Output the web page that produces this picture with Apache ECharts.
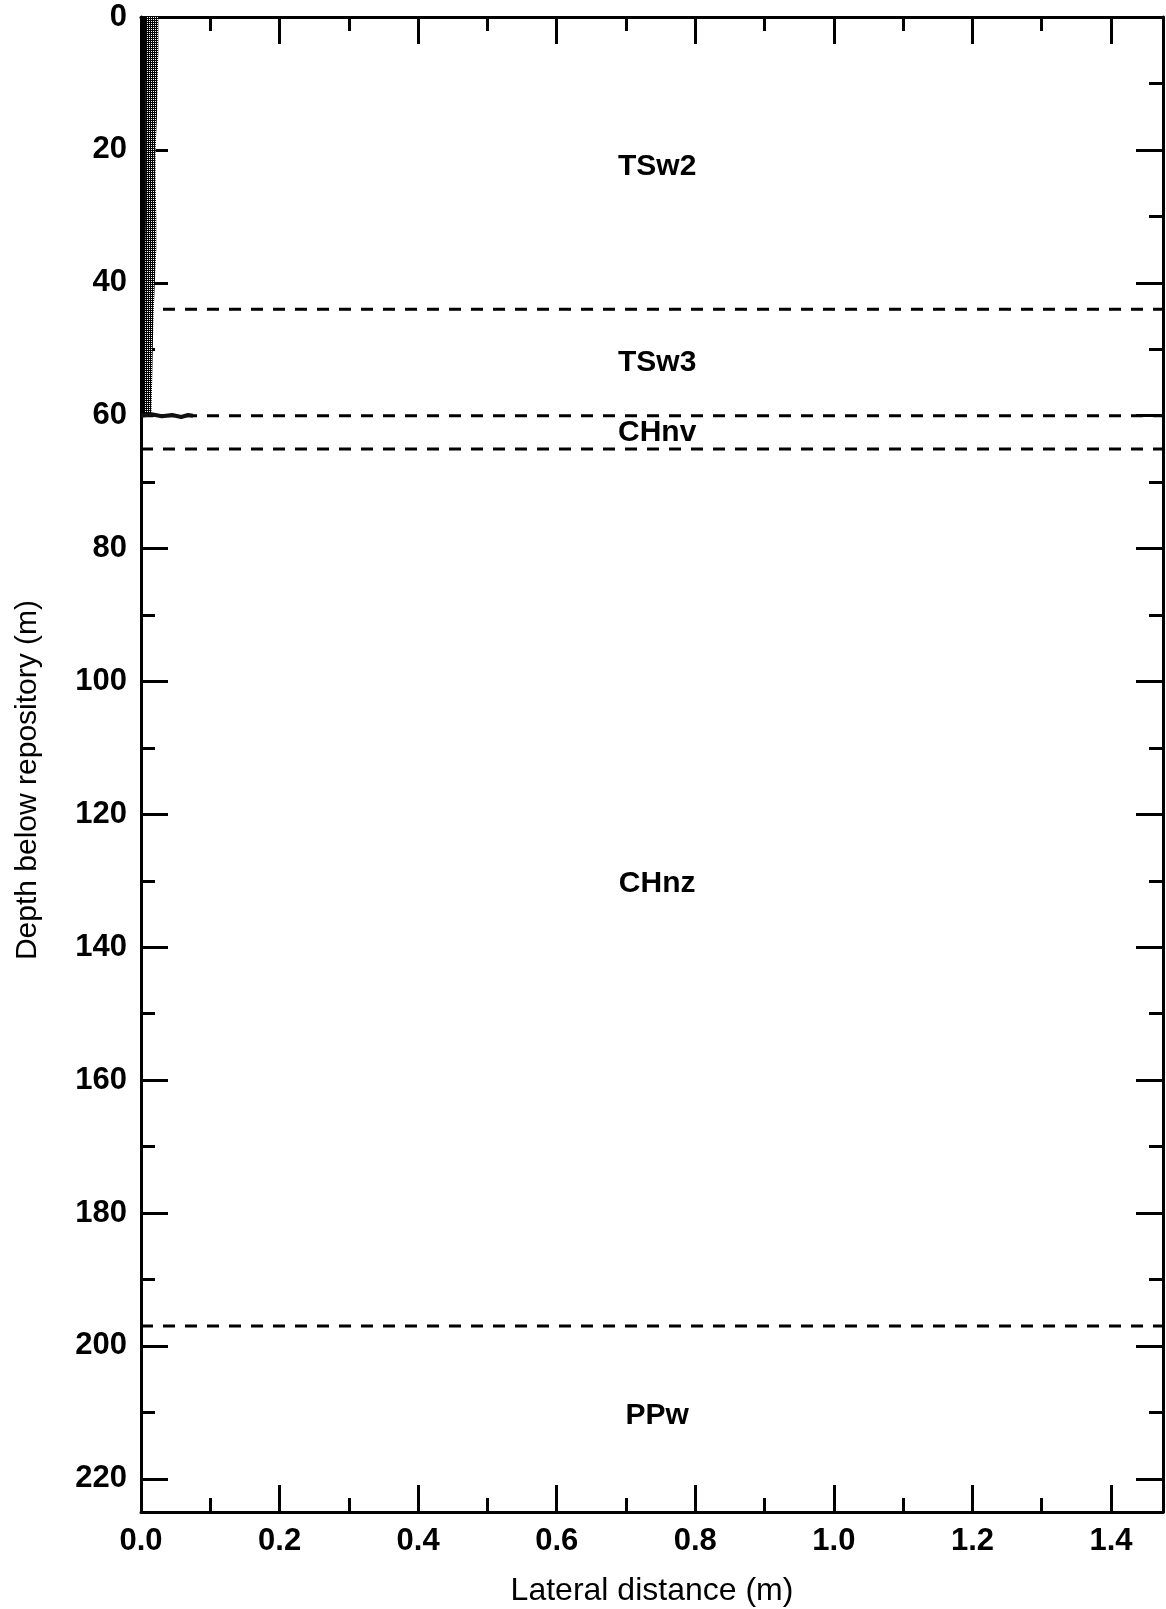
<!DOCTYPE html>
<html>
<head>
<meta charset="utf-8">
<script src="https://cdn.jsdelivr.net/npm/echarts@6/dist/echarts.min.js"></script>
<style>
  html, body { margin: 0; padding: 0; background: #fff; }
  #chart { width: 1166px; height: 1609px; }
</style>
</head>
<body>
<div id="chart"></div>
<script>
// Tracer plume below the repository: depth (m) vs lateral extent (m)
const plumeDepth = [0, 5, 10, 15, 20, 25, 30, 35, 40, 45, 50, 55, 60];
const plumeOuter = [0.025, 0.025, 0.024, 0.023, 0.021, 0.021, 0.022, 0.022, 0.020, 0.018, 0.017, 0.016, 0.015];
const plumeCore  = [0.008, 0.008, 0.007, 0.007, 0.007, 0.007, 0.007, 0.006, 0.006, 0.006, 0.005, 0.005, 0.005];

// Lateral spreading along the contact at 60 m
const spreadX     = [0, 0.015, 0.03, 0.045, 0.058, 0.068, 0.075];
const spreadDepth = [60, 59.8, 60.1, 59.9, 60.2, 59.9, 60];

// Hydrogeologic unit contacts (m)
const contactDepths = [44, 60, 65, 197];

// Unit names and label positions
const unitNames  = ['TSw2', 'TSw3', 'CHnv', 'CHnz', 'PPw'];
const unitDepths = [22.5, 52, 62.5, 130.5, 210.5];
const unitX      = [0.745, 0.745, 0.745, 0.745, 0.745];

const X_MAX = 1.475;
const Y_MAX = 225;
const FONT = "'Liberation Sans', Arial, Helvetica, sans-serif";

// Stippled fill for the dispersed part of the plume
const pc = document.createElement('canvas');
pc.width = 4; pc.height = 4;
const g = pc.getContext('2d');
g.fillStyle = '#000'; g.fillRect(0, 0, 4, 4);
g.fillStyle = '#fff';
g.fillRect(1, 1, 1, 1); g.fillRect(3, 3, 1, 1); g.fillRect(3, 1, 1, 1); g.fillRect(1, 3, 1, 1);
const stipple = { image: pc, repeat: 'repeat' };

const lineStyle = { color: '#000', width: 3 };
const labelStyle = { color: '#000', fontSize: 31, fontWeight: 'bold', fontFamily: FONT };

function xAxisDef(position, major) {
  return {
    type: 'value', position: position, min: 0, max: X_MAX,
    interval: major ? 0.2 : 0.1,
    axisLine: { show: major, onZero: false, lineStyle: lineStyle },
    axisTick: { show: true, inside: true, length: major ? 27 : 14, lineStyle: lineStyle },
    axisLabel: (major && position === 'bottom')
      ? Object.assign({ show: true, margin: 14, showMaxLabel: false,
          formatter: v => v.toFixed(1) }, labelStyle)
      : { show: false },
    splitLine: { show: false },
    name: (major && position === 'bottom') ? 'Lateral distance (m)' : '',
    nameLocation: 'middle', nameGap: 63,
    nameTextStyle: { color: '#000', fontSize: 32, fontFamily: FONT }
  };
}

function yAxisDef(position, major) {
  return {
    type: 'value', position: position, min: 0, max: Y_MAX, inverse: true,
    interval: major ? 20 : 10,
    axisLine: { show: major, onZero: false, lineStyle: lineStyle },
    axisTick: { show: true, inside: true, length: major ? 27 : 14, lineStyle: lineStyle },
    axisLabel: (major && position === 'left')
      ? Object.assign({ show: true, margin: 14, showMaxLabel: false }, labelStyle)
      : { show: false },
    splitLine: { show: false }
  };
}

const series = [];

contactDepths.forEach(d => {
  series.push({
    type: 'line', xAxisIndex: 0, yAxisIndex: 0, symbol: 'none', silent: true, z: 2,
    data: [[0, d], [X_MAX, d]],
    lineStyle: { color: '#000', width: 3, type: [12, 10] }
  });
});

series.push({
  type: 'custom', xAxisIndex: 0, yAxisIndex: 0, z: 5, silent: true,
  data: [[0, 0]],
  renderItem: function (params, api) {
    const leftEdge = plumeDepth.slice().reverse().map(d => api.coord([0, d]));
    const outer = plumeDepth.map((d, i) => api.coord([plumeOuter[i], d]));
    const core = plumeDepth.map((d, i) => api.coord([plumeCore[i], d]));
    return {
      type: 'group',
      children: [
        { type: 'polygon', shape: { points: outer.concat(leftEdge) }, style: { fill: stipple } },
        { type: 'polygon', shape: { points: core.concat(leftEdge) }, style: { fill: '#000' } }
      ]
    };
  }
});

series.push({
  type: 'line', xAxisIndex: 0, yAxisIndex: 0, symbol: 'none', silent: true, z: 6,
  data: spreadX.map((x, i) => [x, spreadDepth[i]]),
  lineStyle: { color: '#111', width: 4 }
});

series.push({
  type: 'scatter', xAxisIndex: 0, yAxisIndex: 0, symbolSize: 0, silent: true, z: 7,
  itemStyle: { opacity: 1 },
  data: unitNames.map((n, i) => ({ name: n, value: [unitX[i], unitDepths[i]] })),
  label: {
    show: true, position: 'inside', formatter: '{b}',
    color: '#000', fontSize: 30, fontWeight: 'bold', fontFamily: FONT
  }
});

const chart = echarts.init(document.getElementById('chart'), null, { renderer: 'canvas' });
chart.setOption({
  animation: false,
  backgroundColor: '#fff',
  grid: {
    left: 141, top: 17, width: 1022, height: 1495,
    containLabel: false, outerBoundsMode: 'none'
  },
  xAxis: [xAxisDef('bottom', true), xAxisDef('bottom', false), xAxisDef('top', true), xAxisDef('top', false)],
  yAxis: [yAxisDef('left', true), yAxisDef('left', false), yAxisDef('right', true), yAxisDef('right', false)],
  graphic: [{
    type: 'text', x: 28, y: 780, rotation: Math.PI / 2, silent: true,
    style: {
      text: 'Depth below repository (m)', fill: '#000',
      font: "30px 'Liberation Sans', Arial, Helvetica, sans-serif",
      align: 'center', verticalAlign: 'middle'
    }
  }],
  series: series
});
</script>
</body>
</html>
